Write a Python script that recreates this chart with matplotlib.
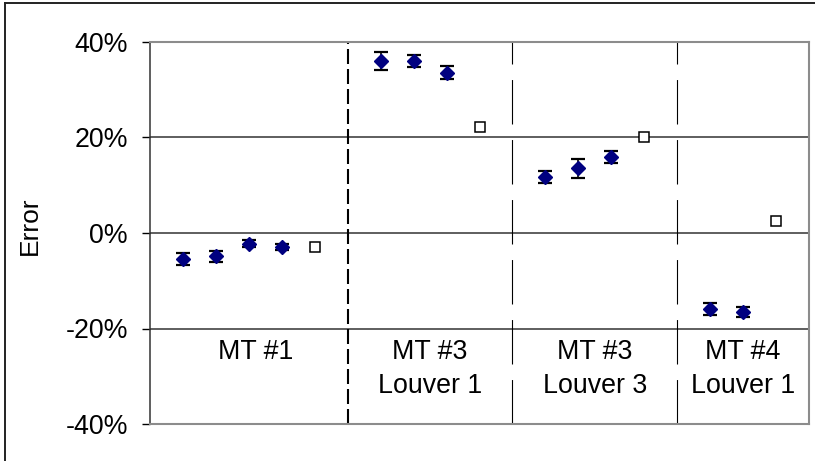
import matplotlib.pyplot as plt
from matplotlib.lines import Line2D

plt.rcParams['font.family'] = ['Liberation Sans', 'DejaVu Sans']

# measured error (%) with uncertainty, one entry per test
meas_x = [1, 2, 3, 4, 7, 8, 9, 12, 13, 14, 17, 18]
meas_y = [-5.4, -4.9, -2.2, -2.9, 36.0, 36.0, 33.6, 11.7, 13.6, 15.9, -15.9, -16.5]
meas_err = [1.3, 1.2, 0.8, 0.6, 1.9, 1.3, 1.3, 1.3, 2.0, 1.3, 1.2, 1.0]

# model prediction, one per group
model_x = [5, 10, 15, 19]
model_y = [-2.9, 22.3, 20.1, 2.5]

# group separators and labels
sep_x = [6, 11, 16]
group_x = [3.2, 8.5, 13.5, 18]
group_line1 = ["MT #1", "MT #3", "MT #3", "MT #4"]
group_line2 = ["", "Louver 1", "Louver 3", "Louver 1"]

yticks = [-40, -20, 0, 20, 40]
ytick_labels = ["-40%", "-20%", "0%", "20%", "40%"]

W, H = 815, 461
fig = plt.figure(figsize=(W / 100, H / 100), dpi=100)
ax = fig.add_axes([150 / W, 1 - 424 / H, (809 - 150) / W, (424 - 42) / H])

ax.set_xlim(0, 20)
ax.set_ylim(-40, 40)

# horizontal grid
for g in [20, 0, -20]:
    ax.axhline(g, color="#333333", lw=1.1, zorder=1)

# separators: first one heavy dashed, others thin long-dash
ax.axvline(sep_x[0], color="black", lw=1.5, dashes=(7.2, 2.4), zorder=1)
for s in sep_x[1:]:
    ax.axvline(s, color="black", lw=0.8, dashes=(40, 14), zorder=1)

ax.errorbar(meas_x, meas_y, yerr=meas_err, fmt="D", color="#000080",
            ms=6.8, mec="#000080", ecolor="black", elinewidth=1.2,
            capsize=4.7, capthick=1.6, zorder=3)
ax.plot(model_x, model_y, "s", ms=6.5, mfc="white", mec="black", mew=1.1,
        zorder=3)

for x, l1, l2 in zip(group_x, group_line1, group_line2):
    ax.text(x, -26.4, l1, ha="center", va="baseline", fontsize=19.3)
    if l2:
        ax.text(x, -33.6, l2, ha="center", va="baseline", fontsize=19.3)

ax.set_xticks([])
ax.set_yticks(yticks)
ax.set_yticklabels(ytick_labels, fontsize=19.3)
ax.tick_params(axis="y", direction="out", length=6, width=1, pad=10)

for side in ["top", "right", "bottom"]:
    ax.spines[side].set_color("#8c8c8c")
    ax.spines[side].set_linewidth(1.5)
ax.spines["left"].set_color("#333333")
ax.spines["left"].set_linewidth(1.1)

fig.text(30 / W, 1 - 226 / H, "Error", rotation=90, ha="center",
         va="center", fontsize=19)

# outer chart border (top and left edges)
fig.add_artist(Line2D([5 / W, 1], [1 - 3 / H] * 2, color="#222222", lw=1.4))
fig.add_artist(Line2D([5 / W] * 2, [0, 1 - 3 / H], color="#222222", lw=1.4))

fig.savefig("out.png", dpi=100)
